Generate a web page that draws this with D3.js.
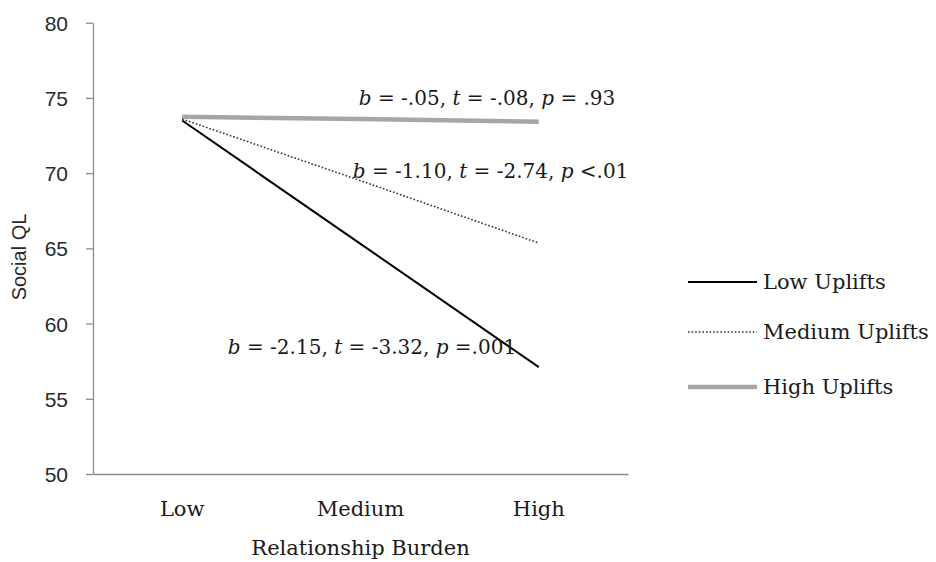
<!DOCTYPE html>
<html>
<head>
<meta charset="utf-8">
<script src="https://cdn.jsdelivr.net/npm/d3@7"></script>
<style>
  html, body { margin: 0; padding: 0; background: #fff; }
  svg { display: block; }
</style>
</head>
<body>
<svg id="chart" width="936" height="562"></svg>
<script>
// ---- data ----
const categories = ["Low", "Medium", "High"];
const lowUplifts = [73.5, 65.3, 57.1];
const mediumUplifts = [73.6, 69.5, 65.35];
const highUplifts = [73.75, 73.6, 73.42];
const seriesNames = ["Low Uplifts", "Medium Uplifts", "High Uplifts"];
const yTicks = [50, 55, 60, 65, 70, 75, 80];
const annotations = [
  { parts: [["b", true], [" = -.05, ", false], ["t", true], [" = -.08, ", false], ["p", true], [" = .93", false]], cat: "High", value: 73.42 },
  { parts: [["b", true], [" = -1.10, ", false], ["t", true], [" = -2.74, ", false], ["p", true], [" <.01", false]], cat: "High", value: 65.35 },
  { parts: [["b", true], [" = -2.15, ", false], ["t", true], [" = -3.32, ", false], ["p", true], [" =.001", false]], cat: "High", value: 57.1 }
];
const xTitle = "Relationship Burden";
const yTitle = "Social QL";

// ---- layout ----
const svg = d3.select("#chart");
const plotLeft = 93, plotRight = 628, plotTop = 22.7, plotBottom = 474;
const serif = "'DejaVu Serif', serif";
const sans = "'Liberation Sans', Arial, sans-serif";
const textColor = "#1a1a1a";
const axisColor = "#8c8c8c";

const x = d3.scaleBand().domain(categories).range([plotLeft, plotRight]).paddingInner(0).paddingOuter(0);
const y = d3.scaleLinear().domain([50, 80]).range([plotBottom, plotTop]);
const cx = c => x(c) + x.bandwidth() / 2;

// y axis
const yAxis = svg.append("g")
  .attr("transform", `translate(${plotLeft},0)`)
  .call(d3.axisLeft(y).tickValues(yTicks).tickSize(7).tickPadding(18).tickSizeOuter(0));
yAxis.select(".domain").attr("stroke", axisColor).attr("stroke-width", 1.3);
yAxis.selectAll(".tick line").attr("stroke", axisColor).attr("stroke-width", 1.3);
yAxis.selectAll(".tick text")
  .attr("font-family", sans).attr("font-size", 21).attr("fill", "#2a2a2a").attr("dy", "0.36em");

// x axis
const xAxis = svg.append("g")
  .attr("transform", `translate(0,${plotBottom})`)
  .call(d3.axisBottom(x).tickSize(0).tickSizeOuter(0).tickPadding(0));
xAxis.select(".domain").attr("stroke", axisColor).attr("stroke-width", 1.3);
xAxis.selectAll(".tick text")
  .attr("font-family", serif).attr("font-size", 21).attr("fill", textColor)
  .attr("y", 42).attr("dy", 0);

// titles
svg.append("text")
  .attr("x", (plotLeft + plotRight) / 2).attr("y", 555)
  .attr("text-anchor", "middle")
  .attr("font-family", serif).attr("font-size", 21).attr("fill", textColor)
  .text(xTitle);
svg.append("text")
  .attr("transform", `translate(26,257) rotate(-90)`)
  .attr("text-anchor", "middle")
  .attr("font-family", sans).attr("font-size", 20).attr("fill", "#2a2a2a")
  .text(yTitle);

// lines
const styles = [
  { stroke: "#000000", width: 2, dash: null },
  { stroke: "#333333", width: 1.6, dash: "1.6,2" },
  { stroke: "#a6a6a6", width: 4.5, dash: null }
];
const allSeries = [lowUplifts, mediumUplifts, highUplifts];
const line = d3.line().x((d, i) => cx(categories[i])).y(d => y(d));

[2, 1, 0].forEach(k => {
  svg.append("path")
    .datum(allSeries[k])
    .attr("d", line)
    .attr("fill", "none")
    .attr("stroke", styles[k].stroke)
    .attr("stroke-width", styles[k].width)
    .attr("stroke-dasharray", styles[k].dash);
});

// annotations
const annOffsets = [{ dx: -180, dy: -17 }, { dx: -186, dy: -65 }, { dx: -311, dy: -13 }];
annotations.forEach((a, i) => {
  const t = svg.append("text")
    .attr("x", cx(a.cat) + annOffsets[i].dx)
    .attr("y", y(a.value) + annOffsets[i].dy)
    .attr("font-family", serif).attr("font-size", 20).attr("fill", textColor);
  a.parts.forEach(p => {
    t.append("tspan").attr("font-style", p[1] ? "italic" : "normal").text(p[0]);
  });
});

// legend
const legendY = [282, 332, 387];
seriesNames.forEach((name, i) => {
  svg.append("line")
    .attr("x1", 688).attr("x2", 757)
    .attr("y1", legendY[i]).attr("y2", legendY[i])
    .attr("stroke", styles[i].stroke)
    .attr("stroke-width", styles[i].width)
    .attr("stroke-dasharray", styles[i].dash);
  svg.append("text")
    .attr("x", 763).attr("y", legendY[i] + 7)
    .attr("font-family", serif).attr("font-size", 21).attr("fill", textColor)
    .text(name);
});
</script>
</body>
</html>
